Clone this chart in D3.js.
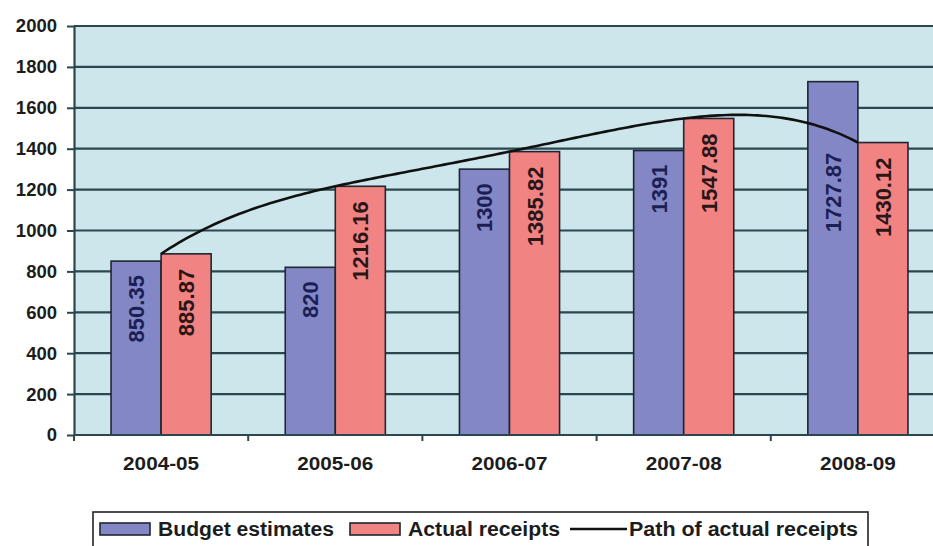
<!DOCTYPE html>
<html>
<head>
<meta charset="utf-8">
<script src="https://cdn.jsdelivr.net/npm/d3@7"></script>
<style>
  html, body { margin: 0; padding: 0; background: #ffffff; }
  svg { display: block; }
  text { font-family: "Liberation Sans", Arial, sans-serif; font-weight: bold; }
</style>
</head>
<body>
<svg id="chart" width="933" height="546"></svg>
<script>
// ---- data ----
const categories = ["2004-05", "2005-06", "2006-07", "2007-08", "2008-09"];
const budgetEstimates = [850.35, 820, 1300, 1391, 1727.87];
const actualReceipts = [885.87, 1216.16, 1385.82, 1547.88, 1430.12];
const budgetLabels = ["850.35", "820", "1300", "1391", "1727.87"];
const actualLabels = ["885.87", "1216.16", "1385.82", "1547.88", "1430.12"];
const yTicks = [0, 200, 400, 600, 800, 1000, 1200, 1400, 1600, 1800, 2000];
const seriesNames = ["Budget estimates", "Actual receipts", "Path of actual receipts"];

// ---- layout ----
const svg = d3.select("#chart");
const plot = { left: 74, top: 26, right: 945, bottom: 435 };
const colors = { budget: "#8387c6", actual: "#f28383", bg: "#cce6ec", grid: "#2b474d" };

const x = d3.scaleBand().domain(categories).range([plot.left, plot.right]).paddingInner(0).paddingOuter(0);
const xSub = d3.scaleBand().domain(["b", "a"]).range([0, x.bandwidth()]).paddingInner(0).paddingOuter(0.74);
const y = d3.scaleLinear().domain([0, 2000]).range([plot.bottom, plot.top]);

// plot background
svg.append("rect")
  .attr("x", plot.left).attr("y", plot.top)
  .attr("width", 933 - plot.left).attr("height", plot.bottom - plot.top)
  .attr("fill", colors.bg);

// gridlines
svg.append("g").selectAll("line").data(yTicks.filter(d => d > 0)).join("line")
  .attr("x1", plot.left).attr("x2", 933)
  .attr("y1", d => y(d)).attr("y2", d => y(d))
  .attr("stroke", colors.grid).attr("stroke-width", 2.2);

// y axis
const yAxis = d3.axisLeft(y).tickValues(yTicks).tickFormat(d3.format("d")).tickSize(7).tickSizeOuter(0).tickPadding(10);
const gy = svg.append("g").attr("transform", `translate(${plot.left},0)`).call(yAxis);
gy.select(".domain").attr("stroke", colors.grid).attr("stroke-width", 2.2);
gy.selectAll(".tick line").attr("stroke", colors.grid).attr("stroke-width", 2);
gy.selectAll(".tick text").attr("font-size", 18.5).attr("fill", "#1c1c1c")
  .attr("font-family", "Liberation Sans, Arial, sans-serif").attr("font-weight", "bold");

// bars
const groups = svg.append("g").selectAll("g").data(categories).join("g")
  .attr("transform", d => `translate(${x(d)},0)`);

groups.append("rect")
  .attr("x", xSub("b")).attr("width", xSub.bandwidth())
  .attr("y", (d, i) => y(budgetEstimates[i]))
  .attr("height", (d, i) => y(0) - y(budgetEstimates[i]))
  .attr("fill", colors.budget).attr("stroke", "#1f2633").attr("stroke-width", 1.6);

groups.append("rect")
  .attr("x", xSub("a")).attr("width", xSub.bandwidth())
  .attr("y", (d, i) => y(actualReceipts[i]))
  .attr("height", (d, i) => y(0) - y(actualReceipts[i]))
  .attr("fill", colors.actual).attr("stroke", "#1f2633").attr("stroke-width", 1.6);

// bar labels (rotated, inside end)
groups.append("text")
  .attr("transform", (d, i) => `translate(${xSub("b") + xSub.bandwidth() / 2 + 8},${y(budgetEstimates[i]) + (i === 4 ? 71 : 14)}) rotate(-90)`)
  .attr("text-anchor", "end")
  .attr("font-size", 22).attr("fill", "#1b1f55")
  .text((d, i) => budgetLabels[i]);

groups.append("text")
  .attr("transform", (d, i) => `translate(${xSub("a") + xSub.bandwidth() / 2 + 8},${y(actualReceipts[i]) + 15}) rotate(-90)`)
  .attr("text-anchor", "end")
  .attr("font-size", 22).attr("fill", "#2a1616")
  .text((d, i) => actualLabels[i]);

// x axis
const gx = svg.append("g").attr("transform", `translate(0,${plot.bottom})`);
gx.append("line").attr("x1", plot.left).attr("x2", 933).attr("y1", 0).attr("y2", 0)
  .attr("stroke", colors.grid).attr("stroke-width", 2.2);
gx.selectAll("line.tk").data(categories.concat(["end"])).join("line").attr("class", "tk")
  .attr("x1", (d, i) => plot.left + i * x.bandwidth()).attr("x2", (d, i) => plot.left + i * x.bandwidth())
  .attr("y1", 0).attr("y2", 6).attr("stroke", colors.grid).attr("stroke-width", 2);
gx.selectAll("text").data(categories).join("text")
  .attr("x", d => x(d) + x.bandwidth() / 2).attr("y", 35)
  .attr("text-anchor", "middle").attr("font-size", 19).attr("fill", "#1c1c1c")
  .attr("textLength", 76).attr("lengthAdjust", "spacingAndGlyphs")
  .text(d => d);

// path of actual receipts: order-4 polynomial trendline through the actual receipts
const n = actualReceipts.length;
function poly(t) {
  let s = 0;
  for (let i = 0; i < n; i++) {
    let L = 1;
    for (let j = 0; j < n; j++) if (j !== i) L *= (t - j) / (i - j);
    s += L * actualReceipts[i];
  }
  return s;
}
const tSamples = d3.range(0, (n - 1) * 40 + 1).map(k => k / 40);
const xCenter = t => x(categories[0]) + x.bandwidth() / 2 + t * x.step();
const line = d3.line().x(t => xCenter(t)).y(t => y(poly(t)));
svg.append("path").datum(tSamples)
  .attr("d", line).attr("fill", "none").attr("stroke", "#111").attr("stroke-width", 2.6);

// legend
const lg = svg.append("g");
lg.append("rect").attr("x", 93).attr("y", 512).attr("width", 775).attr("height", 40)
  .attr("fill", "#fff").attr("stroke", "#222").attr("stroke-width", 1.6);
lg.append("rect").attr("x", 100).attr("y", 523).attr("width", 50).attr("height", 12)
  .attr("fill", colors.budget).attr("stroke", "#1f2633").attr("stroke-width", 1.6);
lg.append("text").attr("x", 158).attr("y", 536).attr("font-size", 19.5).attr("fill", "#1c1c1c")
  .attr("textLength", 176).attr("lengthAdjust", "spacingAndGlyphs").text(seriesNames[0]);
lg.append("rect").attr("x", 350).attr("y", 523).attr("width", 50).attr("height", 12)
  .attr("fill", colors.actual).attr("stroke", "#1f2633").attr("stroke-width", 1.6);
lg.append("text").attr("x", 408).attr("y", 536).attr("font-size", 19.5).attr("fill", "#1c1c1c")
  .attr("textLength", 152).attr("lengthAdjust", "spacingAndGlyphs").text(seriesNames[1]);
lg.append("line").attr("x1", 570).attr("x2", 627).attr("y1", 529).attr("y2", 529)
  .attr("stroke", "#111").attr("stroke-width", 2.6);
lg.append("text").attr("x", 629).attr("y", 536).attr("font-size", 19.5).attr("fill", "#1c1c1c")
  .attr("textLength", 229).attr("lengthAdjust", "spacingAndGlyphs").text(seriesNames[2]);
</script>
</body>
</html>
